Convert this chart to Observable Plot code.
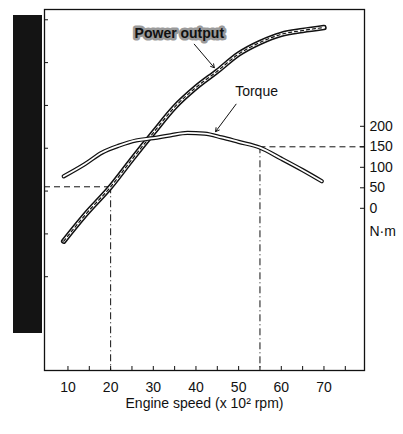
<!DOCTYPE html>
<html><head><meta charset="utf-8">
<script src="https://cdn.jsdelivr.net/npm/d3@7"></script>
<script src="https://cdn.jsdelivr.net/npm/@observablehq/plot@0.6"></script>
<style>
body{margin:0;background:#fff;}
#wrap{position:relative;width:403px;height:434px;overflow:hidden;font-family:"Liberation Sans",Arial,sans-serif;}
#wrap svg{position:absolute;left:0;top:0;}
#band{position:absolute;left:13px;top:15px;width:29px;height:318px;background:#141414;}
</style></head><body>
<div id="wrap"><div id="band"></div></div>
<script>
// Engine speed (x 10^2 rpm) and curve values
const rpmP = [9, 14, 20, 25, 30, 35, 40, 45, 50, 55, 60, 65, 70];
const power = [8.3, 14.4, 21, 27.4, 33.6, 39.6, 44.2, 48, 52, 54.7, 56.6, 57.5, 58.2];
const rpmT = [9, 14, 18, 22, 26, 30, 34, 38, 42, 46, 50, 55, 60, 65, 69.5];
const torque = [78, 108, 136, 153, 165.5, 171, 178, 184, 182, 173, 162, 148, 121, 93, 66];
const xMajor = [10, 20, 30, 40, 50, 60, 70];
const xMinor = [15, 25, 35, 45, 55, 65, 75];
const powerTicks = [0, 10, 20, 30, 40, 50, 60];
const torqueTicks = [0, 50, 100, 150, 200];
const guidePowerRpm = 20, guidePower = 21;
const guideTorqueRpm = 55, guideTorque = 150;

const W = 403, H = 434;
const mT = 9, mR = 39, mB = 64, mL = 44;
const fw = W - mL - mR, fh = H - mT - mB;
const xDomain = [4.5, 79.5];
const pDomain = [-21.9, 62.4];
const tDomain = [-395.6, 484.9];
const ink = "#111";

const pData = rpmP.map((r, i) => ({r, v: power[i]}));
const tData = rpmT.map((r, i) => ({r, v: torque[i]}));

const common = {
  width: W, height: H, marginTop: mT, marginRight: mR, marginBottom: mB, marginLeft: mL,
  style: {background: "transparent", fontFamily: "'Liberation Sans', Arial, sans-serif", fontSize: "14px", color: ink}
};

const p1 = Plot.plot({
  ...common,
  x: {domain: xDomain},
  y: {domain: pDomain, axis: null},
  marks: [
    Plot.frame({stroke: ink, strokeWidth: 1.3}),
    Plot.tickX(xMajor.concat(xMinor), {x: d => d, insetTop: fh - 4, stroke: ink}),
    Plot.axisX(xMajor, {tickSize: 0, tickPadding: 12, fontSize: 14, label: null}),
    Plot.tickY(powerTicks, {y: d => d, insetRight: fw - 4, stroke: ink}),
    Plot.ruleY([guidePower], {x1: xDomain[0], x2: guidePowerRpm, stroke: ink, strokeDasharray: "6,4"}),
    Plot.ruleX([guidePowerRpm], {y1: guidePower, y2: pDomain[0], stroke: ink, strokeDasharray: "7,3,1,3"}),
    Plot.line(pData, {x: "r", y: "v", curve: "monotone-x", stroke: ink, strokeWidth: 5.5, strokeLinecap: "round"}),
    Plot.line(pData, {x: "r", y: "v", curve: "monotone-x", stroke: "#fff", strokeWidth: 2.4, strokeLinecap: "round"}),
    Plot.line(pData, {x: "r", y: "v", curve: "monotone-x", stroke: ink, strokeWidth: 1.2, strokeDasharray: "3,3"}),
    Plot.text(["Power output"], {x: 36.1, y: 56.7, text: d => d, fontWeight: "bold", fontSize: 14, fill: ink, stroke: "#9a9a9a", strokeWidth: 5}),
    Plot.arrow([0], {x1: 39.6, y1: 54.3, x2: 44.3, y2: 48.8, stroke: ink, strokeWidth: 1, headLength: 6}),
    Plot.text(["Engine speed (x 10² rpm)"], {text: d => d, frameAnchor: "bottom", dy: 37, fontSize: 14, fill: ink})
  ]
});

const p2 = Plot.plot({
  ...common,
  x: {domain: xDomain, axis: null},
  y: {domain: tDomain, axis: null},
  marks: [
    Plot.tickY(torqueTicks, {y: d => d, insetLeft: fw - 4, stroke: ink}),
    Plot.axisY(torqueTicks, {anchor: "right", tickSize: 0, tickPadding: 5, fontSize: 14, label: null}),
    Plot.text(["N·m"], {text: d => d, x: xDomain[1], y: -57, dx: 5, textAnchor: "start", fontSize: 14, fill: ink}),
    Plot.ruleY([guideTorque], {x1: guideTorqueRpm, x2: xDomain[1], stroke: ink, strokeDasharray: "6,4"}),
    Plot.ruleX([guideTorqueRpm], {y1: guideTorque, y2: tDomain[0], stroke: ink, strokeDasharray: "7,3,1,3"}),
    Plot.line(tData, {x: "r", y: "v", curve: "monotone-x", stroke: ink, strokeWidth: 4.2, strokeLinecap: "round"}),
    Plot.line(tData, {x: "r", y: "v", curve: "monotone-x", stroke: "#fff", strokeWidth: 1.8, strokeLinecap: "round"}),
    Plot.text(["Torque"], {x: 54.2, y: 284, text: d => d, fontSize: 14, fill: ink}),
    Plot.arrow([0], {x1: 49.4, y1: 254, x2: 44.6, y2: 187, stroke: ink, strokeWidth: 1, headLength: 6})
  ]
});

const wrap = document.getElementById("wrap");
wrap.appendChild(p1);
wrap.appendChild(p2);
</script>
</body></html>
